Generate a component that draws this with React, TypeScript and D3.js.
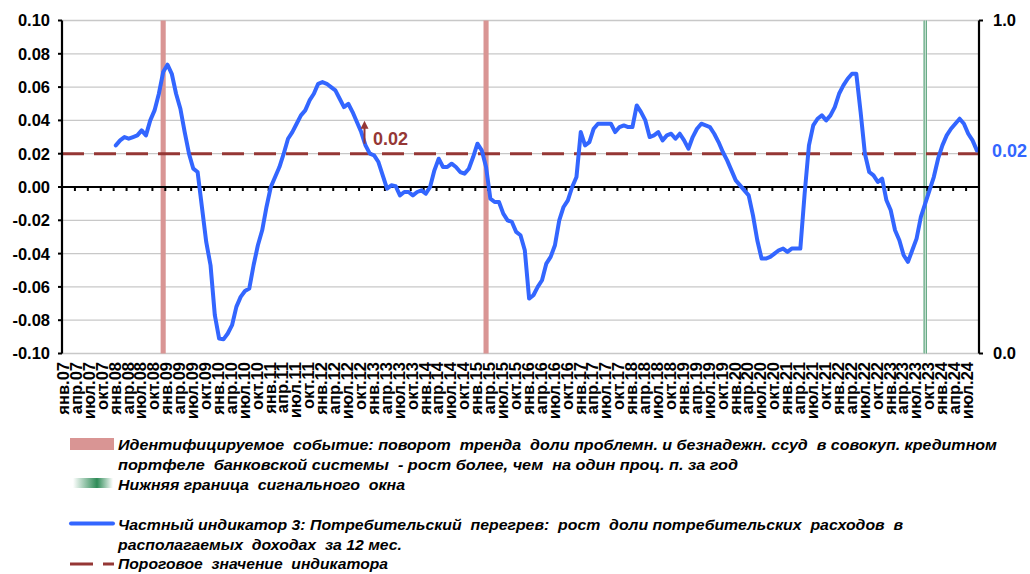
import React from 'react';
import * as d3 from 'd3';

// ---------- DATA ----------
const monthAbbr = ['янв', 'фев', 'мар', 'апр', 'май', 'июн', 'июл', 'авг', 'сен', 'окт', 'ноя', 'дек'];
const years = ['07', '08', '09', '10', '11', '12', '13', '14', '15', '16', '17', '18', '19', '20', '21', '22', '23', '24'];
const lastMonthOfLastYear = 9; // data through сен.24
const categories: string[] = [];
years.forEach((y, yi) => {
  const n = yi === years.length - 1 ? lastMonthOfLastYear : 12;
  for (let m = 0; m < n; m++) categories.push(`${monthAbbr[m]}.${y}`);
});
const labelEvery = 3;

// Indicator 3 values, monthly starting янв.08
const indicatorStart = 'янв.08';
const indicatorValues = [
  0.025, 0.028, 0.030, 0.029, 0.030, 0.031, 0.034, 0.031, 0.040, 0.046, 0.056, 0.069, // 2008
  0.0735, 0.068, 0.056, 0.047, 0.033, 0.020, 0.011, 0.009, -0.012, -0.033, -0.047, -0.077, // 2009
  -0.091, -0.0915, -0.088, -0.083, -0.072, -0.066, -0.0625, -0.061, -0.047, -0.035, -0.026, -0.012, // 2010
  0.000, 0.006, 0.012, 0.020, 0.029, 0.033, 0.038, 0.043, 0.046, 0.052, 0.056, 0.062, // 2011
  0.063, 0.062, 0.060, 0.058, 0.053, 0.048, 0.050, 0.045, 0.039, 0.033, 0.025, 0.020, // 2012
  0.019, 0.015, 0.007, -0.001, 0.001, 0.0005, -0.005, -0.003, -0.003, -0.005, -0.003, -0.002, // 2013
  -0.004, 0.000, 0.010, 0.017, 0.012, 0.012, 0.014, 0.012, 0.009, 0.008, 0.011, 0.018, // 2014
  0.026, 0.022, 0.012, -0.007, -0.009, -0.009, -0.016, -0.020, -0.021, -0.027, -0.029, -0.038, // 2015
  -0.067, -0.065, -0.060, -0.056, -0.046, -0.042, -0.035, -0.020, -0.012, -0.008, 0.000, 0.006, // 2016
  0.033, 0.025, 0.027, 0.035, 0.038, 0.038, 0.038, 0.038, 0.033, 0.036, 0.037, 0.036, // 2017
  0.036, 0.049, 0.045, 0.040, 0.030, 0.031, 0.033, 0.028, 0.031, 0.032, 0.029, 0.032, // 2018
  0.028, 0.023, 0.030, 0.035, 0.038, 0.037, 0.036, 0.032, 0.027, 0.021, 0.016, 0.010, // 2019
  0.004, 0.001, -0.002, -0.005, -0.017, -0.032, -0.043, -0.043, -0.042, -0.040, -0.038, -0.037, // 2020
  -0.039, -0.037, -0.037, -0.037, -0.004, 0.025, 0.037, 0.041, 0.043, 0.040, 0.043, 0.048, // 2021
  0.056, 0.061, 0.065, 0.068, 0.068, 0.045, 0.020, 0.009, 0.007, 0.003, 0.005, -0.008, // 2022
  -0.014, -0.026, -0.032, -0.041, -0.045, -0.038, -0.031, -0.018, -0.010, -0.002, 0.006, 0.017, // 2023
  0.025, 0.031, 0.035, 0.038, 0.041, 0.038, 0.032, 0.028, 0.022, // 2024
];
const thresholdValue = 0.02;
const eventCategories = ['дек.08', 'мар.15'];
const signalWindowCategories = ['сен.23'];
const leftTicks = [-0.1, -0.08, -0.06, -0.04, -0.02, 0, 0.02, 0.04, 0.06, 0.08, 0.1];
const rightTicks = [0, 1];

const legendEventLines = ['Идентифицируемое  событие: поворот  тренда  доли проблемн. и безнадежн. ссуд  в совокуп. кредитном', 'портфеле  банковской системы  - рост более, чем  на один проц. п. за год'];
const legendSignalLines = ['Нижняя граница  сигнального  окна'];
const legendIndicatorLines = ['Частный индикатор 3: Потребительский  перегрев:  рост  доли потребительских  расходов  в', 'располагаемых  доходах  за 12 мес.'];
const legendThresholdLines = ['Пороговое  значение  индикатора'];

// ---------- LAYOUT ----------
const W = 1030, H = 574;
const plotL = 62, plotR = 979, plotT = 20.5, plotB = 353.5;
const BLUE = '#3366FF';
const PINK = '#D99594';
const DARKRED = '#953735';
const GREEN = '#2E8B57';
const FONT = 'Arial, "Liberation Sans", sans-serif';
const legendTextX = 118;
// text line geometry: [baseline y, rendered length]
const legendEventGeom = [[450, 879], [470, 620]];
const legendSignalGeom = [[490, 287]];
const legendIndicatorGeom = [[530, 785], [550, 284]];
const legendThresholdGeom = [[569, 270]];

const LegendText = ({ lines, geom }: { lines: string[]; geom: number[][] }) => (
  <>
    {lines.map((t, k) => (
      <text key={k} x={legendTextX} y={geom[k][0]} textLength={geom[k][1]} lengthAdjust="spacingAndGlyphs"
        xmlSpace="preserve" style={{ whiteSpace: 'pre' }}>{t}</text>
    ))}
  </>
);

export default function App() {
  const x = d3.scaleBand<number>().domain(d3.range(categories.length)).range([plotL, plotR]).padding(0);
  const bw = x.bandwidth();
  const cx = (i: number) => (x(i) as number) + bw / 2;
  const y = d3.scaleLinear().domain([-0.1, 0.1]).range([plotB, plotT]);
  const y2 = d3.scaleLinear().domain([0, 1]).range([plotB, plotT]);

  const start = categories.indexOf(indicatorStart);
  const pts: [number, number][] = indicatorValues.map((v, k) => [start + k, v]);
  const line = d3.line<[number, number]>().x(d => cx(d[0])).y(d => y(d[1])).curve(d3.curveLinear);

  const y0 = y(0);
  const ticksX = d3.range(labelEvery, categories.length, labelEvery);
  const yT = y(thresholdValue);

  return (
    <svg width={W} height={H} style={{ position: 'absolute', left: 0, top: 0, background: '#fff' }} fontFamily={FONT}>
      <defs>
        <linearGradient id="sigGrad" x1="0" x2="1" y1="0" y2="0">
          <stop offset="0" stopColor="#ffffff" />
          <stop offset="0.25" stopColor={GREEN} stopOpacity="0.9" />
          <stop offset="0.5" stopColor="#ffffff" />
          <stop offset="0.75" stopColor={GREEN} stopOpacity="0.9" />
          <stop offset="1" stopColor="#ffffff" />
        </linearGradient>
        <linearGradient id="sigLegend" x1="0" x2="1" y1="0" y2="0">
          <stop offset="0" stopColor="#ffffff" />
          <stop offset="0.6" stopColor={GREEN} />
          <stop offset="1" stopColor="#ffffff" />
        </linearGradient>
      </defs>
      <rect x={0} y={0} width={W} height={H} fill="#fff" />
      {/* gridlines */}
      {leftTicks.map(t => (
        <line key={'g' + t} x1={plotL} x2={plotR} y1={y(t)} y2={y(t)} stroke="#C8C8C8" strokeWidth={1.3} />
      ))}
      {/* event bars */}
      {eventCategories.map(c => {
        const i = categories.indexOf(c);
        return <rect key={c} x={(x(i) as number) - 0.4} y={y2(1)} width={bw + 0.8} height={y2(0) - y2(1)} fill={PINK} />;
      })}
      {/* signal window */}
      {signalWindowCategories.map(c => {
        const i = categories.indexOf(c);
        return <rect key={c} x={x(i)} y={y2(1)} width={bw} height={y2(0) - y2(1)} fill="url(#sigGrad)" />;
      })}
      {/* threshold */}
      <line x1={plotL} x2={plotR} y1={yT} y2={yT} stroke={DARKRED} strokeWidth={3} strokeDasharray="22 10" />
      {/* zero axis */}
      <line x1={plotL} x2={plotR} y1={y0} y2={y0} stroke="#000" strokeWidth={2.2} />
      {ticksX.map(i => (
        <line key={'tx' + i} x1={x(i)} x2={x(i)} y1={y0} y2={y0 + 4} stroke="#000" strokeWidth={2} />
      ))}
      {/* indicator line */}
      <path d={line(pts) || ''} fill="none" stroke={BLUE} strokeWidth={4} strokeLinejoin="round" strokeLinecap="round" />
      {/* left axis */}
      <line x1={plotL} x2={plotL} y1={plotT} y2={plotB} stroke="#000" strokeWidth={2.2} />
      {leftTicks.map(t => (
        <g key={'lt' + t}>
          <line x1={plotL - 4} x2={plotL} y1={y(t)} y2={y(t)} stroke="#000" strokeWidth={2} />
          <text x={50} y={y(t)} dy="0.36em" textAnchor="end" fontWeight="bold" fontSize={16.5}>{t.toFixed(2)}</text>
        </g>
      ))}
      {/* right axis */}
      <line x1={plotR} x2={plotR} y1={plotT} y2={plotB} stroke="#000" strokeWidth={2.2} />
      {rightTicks.map(t => (
        <g key={'rt' + t}>
          <line x1={plotR} x2={plotR + 4} y1={y2(t)} y2={y2(t)} stroke="#000" strokeWidth={2} />
          <text x={993} y={y2(t)} dy="0.36em" textAnchor="start" fontWeight="bold" fontSize={16.5}>{t.toFixed(1)}</text>
        </g>
      ))}
      {/* last value label */}
      <text x={992} y={y(indicatorValues[indicatorValues.length - 1])} dy="0.36em" fill={BLUE} fontWeight="bold" fontSize={18}>
        {thresholdValue.toFixed(2)}
      </text>
      {/* annotation arrow */}
      <line x1={364.5} x2={364.5} y1={yT - 10} y2={yT - 28} stroke={DARKRED} strokeWidth={2} />
      <path d={`M360.5,${yT - 25} L364.5,${yT - 33} L368.5,${yT - 25} Z`} fill={DARKRED} />
      <text x={373} y={yT - 9} fill={DARKRED} fontWeight="bold" fontSize={18}>{thresholdValue.toFixed(2)}</text>
      {/* x labels */}
      {categories.map((c, i) => (i % labelEvery === 0 ? (
        <text key={'xl' + i} transform={`translate(${cx(i) - 1},362) rotate(-90)`} dy="0.35em" textAnchor="end" fontWeight="bold" fontSize={16.5}>{c}</text>
      ) : null))}
      {/* legend */}
      <g fontWeight="bold" fontStyle="italic" fontSize={15}>
        <rect x={70} y={438} width={44} height={12} fill={PINK} />
        <LegendText lines={legendEventLines} geom={legendEventGeom} />
        <rect x={73} y={478} width={40} height={10} fill="url(#sigLegend)" />
        <LegendText lines={legendSignalLines} geom={legendSignalGeom} />
        <line x1={71} x2={113} y1={523.5} y2={523.5} stroke={BLUE} strokeWidth={4} strokeLinecap="round" />
        <LegendText lines={legendIndicatorLines} geom={legendIndicatorGeom} />
        <line x1={70} x2={114} y1={564} y2={564} stroke={DARKRED} strokeWidth={3} strokeDasharray="23 10" />
        <LegendText lines={legendThresholdLines} geom={legendThresholdGeom} />
      </g>
    </svg>
  );
}
